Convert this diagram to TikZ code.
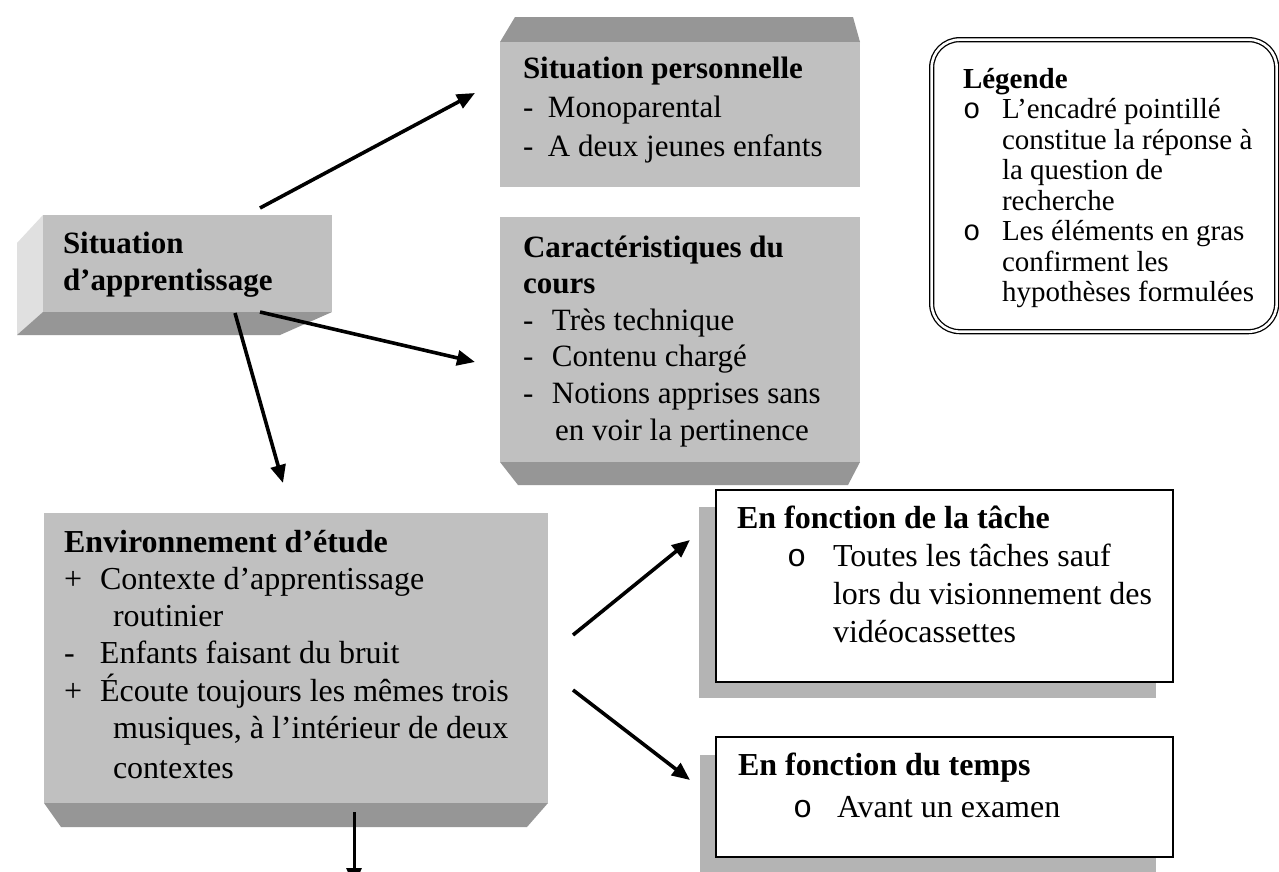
\documentclass[tikz,border=0pt]{standalone}
\usepackage{fontspec}
\setmainfont{Liberation Serif}
\newfontfamily\bulletfont{Liberation Mono}
\usetikzlibrary{arrows.meta}
\definecolor{faceGray}{HTML}{C0C0C0}
\definecolor{darkGray}{HTML}{969696}
\definecolor{lightGray}{HTML}{E0E0E0}
\definecolor{shadowGray}{HTML}{B4B4B4}
\newcommand{\mkr}[2]{\makebox[#1][l]{#2}}
\tikzset{
  face/.style={fill=faceGray, draw=none, inner sep=0pt, outer sep=0pt, anchor=north west},
  txt/.style={anchor=base west, inner sep=0pt, outer sep=0pt},
  arr/.style={line width=3.6pt, -{Triangle[length=18pt,width=15pt]}},
  sbox/.style={draw, line width=1.6pt, fill=white, inner sep=0pt, outer sep=0pt, anchor=north west},
  shadowbox/.style={fill=shadowGray},
}
\begin{document}
\begin{tikzpicture}[x=1pt,y=-1pt]
\useasboundingbox (0,0) rectangle (1279,871);
\clip (0,0) rectangle (1279,871);
\fill[white] (0,0) rectangle (1279,871);

% Box 1 : Situation d'apprentissage
\fill[lightGray] (17,243) -- (43,215) -- (43,312) -- (17,335) -- cycle;
\fill[darkGray] (43,312) -- (332,312) -- (280,335) -- (17,335) -- cycle;
\node[face, minimum width=289pt, minimum height=97pt] (b1) at (43,215) {};
\node[txt, font=\fontsize{31}{37}\selectfont\bfseries] (t1) at (63,253)
  {\begin{tabular}[t]{@{}l@{}}Situation\\d’apprentissage\end{tabular}};

% Box 2 : Situation personnelle
\fill[darkGray] (500,42) -- (515,17) -- (853,17) -- (860,42) -- cycle;
\node[face, minimum width=360pt, minimum height=145pt] (b2) at (500,42) {};
\node[txt, font=\fontsize{31}{39}\selectfont] (t2) at (523,78)
  {\begin{tabular}[t]{@{}l@{}}\textbf{Situation personnelle}\\
   \mkr{25pt}{-}Monoparental\\
   \mkr{25pt}{-}A deux jeunes enfants\end{tabular}};

% Box 3 : Caracteristiques du cours
\fill[darkGray] (500,462) -- (860,462) -- (848,485) -- (518,485) -- cycle;
\node[face, minimum width=360pt, minimum height=245pt] (b3) at (500,217) {};
\node[txt, font=\fontsize{31}{36.6}\selectfont] (t3) at (523,257)
  {\begin{tabular}[t]{@{}l@{}}\textbf{Caractéristiques du}\\
   \textbf{cours}\\
   \mkr{29pt}{-}Très technique\\
   \mkr{29pt}{-}Contenu chargé\\
   \mkr{29pt}{-}Notions apprises sans\\
   \hspace*{32pt}en voir la pertinence\end{tabular}};

% Box 4 : Environnement d'etude
\fill[darkGray] (44,803) -- (548,803) -- (527,827) -- (61,827) -- cycle;
\node[face, minimum width=504pt, minimum height=290pt] (b4) at (44,513) {};
\node[txt, font=\fontsize{32}{37}\selectfont] (t4) at (64,552)
  {\begin{tabular}[t]{@{}l@{}}\textbf{Environnement d’étude}\\
   \mkr{36pt}{+}Contexte d’apprentissage\\
   \hspace*{49pt}routinier\\
   \mkr{36pt}{-}Enfants faisant du bruit\\
   \mkr{36pt}{+}Écoute toujours les mêmes trois\\
   \hspace*{49pt}musiques, à l’intérieur de deux\\[3pt]
   \hspace*{49pt}contextes\end{tabular}};

% Legend
\node[draw, double, double distance=2.6pt, line width=1.3pt, rounded corners=28pt,
      minimum width=345pt, minimum height=292pt, anchor=north west, inner sep=0pt] (leg) at (931,39) {};
\node[txt, font=\fontsize{29}{30.5}\selectfont] (tl) at (963,88)
  {\begin{tabular}[t]{@{}l@{}}\textbf{Légende}\\
   \mkr{39pt}{\bulletfont o}L’encadré pointillé\\
   \hspace*{39pt}constitue la réponse à\\
   \hspace*{39pt}la question de\\
   \hspace*{39pt}recherche\\
   \mkr{39pt}{\bulletfont o}Les éléments en gras\\
   \hspace*{39pt}confirment les\\
   \hspace*{39pt}hypothèses formulées\end{tabular}};

% Shadow box : En fonction de la tache
\fill[shadowbox] (699,507) rectangle (1156,698);
\node[sbox, minimum width=457pt, minimum height=192pt] (b5) at (716,490) {};
\node[txt, font=\fontsize{32}{38.3}\selectfont] (t5) at (737,528)
  {\begin{tabular}[t]{@{}l@{}}\textbf{En fonction de la tâche}\\
   \hspace*{50pt}\mkr{46pt}{\bulletfont o}Toutes les tâches sauf\\
   \hspace*{96pt}lors du visionnement des\\
   \hspace*{96pt}vidéocassettes\end{tabular}};

% Shadow box : En fonction du temps
\fill[shadowbox] (700,755) rectangle (1156,875);
\node[sbox, minimum width=457pt, minimum height=120pt] (b6) at (716,737) {};
\node[txt, font=\fontsize{32}{42}\selectfont] (t6) at (738,775)
  {\begin{tabular}[t]{@{}l@{}}\textbf{En fonction du temps}\\
   \hspace*{55pt}\mkr{44pt}{\bulletfont o}Avant un examen\end{tabular}};

% Connectors
\coordinate (a1s) at (260,208); \coordinate (a1e) at (475,93);
\coordinate (a2s) at (260,312); \coordinate (a2e) at (475,362);
\coordinate (a3s) at (235,313); \coordinate (a3e) at (283,483);
\coordinate (a4s) at (573,635); \coordinate (a4e) at (690,540);
\coordinate (a5s) at (573,690); \coordinate (a5e) at (690,780);
\coordinate (a6s) at (354,812); \coordinate (a6e) at (354,886);
\draw[arr] (a1s) -- (a1e);
\draw[arr] (a2s) -- (a2e);
\draw[arr] (a3s) -- (a3e);
\draw[arr] (a4s) -- (a4e);
\draw[arr] (a5s) -- (a5e);
\draw[line width=3pt, -{Triangle[length=18pt,width=15pt]}] (a6s) -- (a6e);
\end{tikzpicture}
\end{document}
